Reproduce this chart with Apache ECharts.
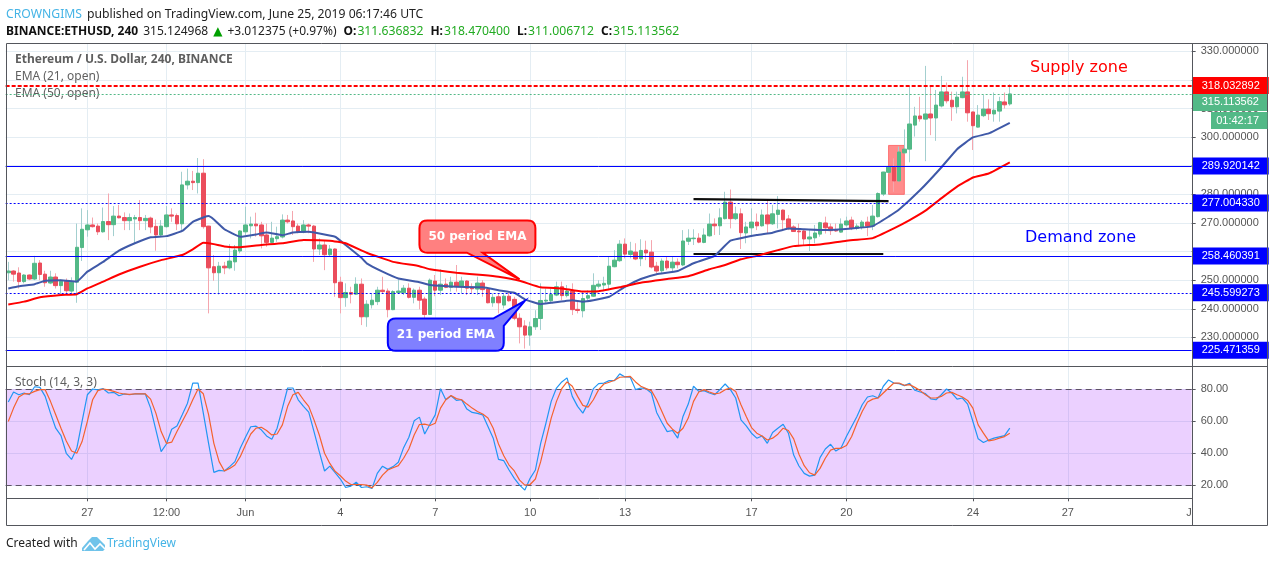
<!DOCTYPE html>
<html lang="en">

<head>
    <meta charset="UTF-8">
    <title>ETHUSD 240</title>
    <script src="https://cdn.jsdelivr.net/npm/echarts@6/dist/echarts.min.js"></script>
    <style>
        * {
            margin: 0;
            padding: 0
        }

        html,
        body {
            width: 100%;
            height: 100%;
            background: #fff;
        }

        #main {
            width: 1274px;
            height: 562px;
        }
    </style>
</head>

<body>
    <div id="main"></div>
    <script type="text/javascript">
        // 4h candles, index 0 = May 24 12:00 UTC
        var opens = [
            252.6,253.2,252.5,249.5,251.8,250.4,256.0,252.1,249.0,251.1,248.1,249.6,246.2,249.3,261.4,267.6,269.3,268.9,266.9,270.5,
            269.4,272.4,271.9,270.8,271.4,271.9,270.8,271.7,268.8,265.8,268.7,272.8,272.6,269.7,283.3,284.6,284.1,287.4,268.9,254.7,
            252.6,254.9,254.3,256.4,260.2,266.9,269.0,269.6,269.3,265.8,263.2,264.5,265.1,271.0,270.7,268.9,266.8,269.3,268.9,260.9,
            262.3,258.9,260.9,249.3,243.9,245.7,245.1,248.6,237.2,241.4,242.5,246.5,246.2,239.7,245.7,245.6,247.2,244.0,246.5,243.4,
            238.0,249.7,246.5,248.6,247.5,249.3,247.9,249.7,247.5,246.9,249.0,246.9,242.1,244.2,241.3,244.4,243.3,236.7,234.0,230.8,
            233.7,236.6,242.7,242.8,244.8,247.7,244.6,246.2,239.8,239.3,243.7,244.4,247.9,248.3,248.6,254.7,256.8,262.6,259.0,259.8,
            257.5,260.5,259.8,254.9,253.3,256.7,254.3,256.3,255.3,263.6,264.5,264.7,263.2,265.5,269.6,269.0,271.5,277.3,271.5,273.2,
            266.5,268.3,270.3,269.0,272.8,269.7,273.0,274.5,271.4,268.6,267.2,267.2,264.4,264.8,266.1,270.0,268.6,267.7,266.8,269.3,
            271.0,268.1,268.4,270.3,268.9,272.2,280.1,287.7,289.5,284.7,294.5,295.8,304.2,307.4,306.3,308.1,306.7,310.9,315.8,312.9,
            310.6,313.8,315.8,308.8,303.5,307.5,309.8,308.1,309.1,312.3,311.6
        ];
        var closes = [
            253.2,252.1,249.5,251.8,250.4,255.9,252.0,249.1,251.1,248.1,249.6,246.3,249.3,261.5,267.8,269.3,268.7,266.9,270.5,269.4,
            272.4,271.8,270.8,271.9,271.9,270.8,271.6,268.6,265.8,268.9,272.8,272.4,269.7,283.3,284.6,284.1,287.4,268.7,254.3,252.6,
            254.9,254.3,256.7,260.5,267.2,269.3,269.6,269.0,265.5,263.2,264.7,265.2,271.0,270.4,268.7,266.9,269.3,268.9,260.9,262.3,
            258.9,260.9,249.1,243.9,245.7,245.1,248.6,237.2,241.6,243.0,246.5,246.0,239.7,246.0,246.2,247.2,244.0,246.5,243.0,238.0,
            250.0,246.5,248.6,247.5,249.3,247.9,249.7,247.2,247.0,249.0,246.7,242.1,244.0,242.1,244.4,242.8,236.7,233.7,230.8,233.7,
            236.6,242.9,243.0,245.0,247.7,244.6,246.2,239.7,239.4,243.6,244.6,248.2,248.6,248.9,254.9,257.0,262.6,259.1,260.2,257.4,
            260.4,259.5,254.6,253.2,256.7,254.3,256.3,255.4,263.7,264.7,264.7,263.3,265.8,269.6,269.0,271.8,277.3,271.5,273.2,266.6,
            268.6,270.3,269.0,272.8,269.7,273.2,274.5,271.1,268.3,267.0,266.9,264.4,265.1,266.5,270.1,268.3,267.3,267.2,269.6,270.7,
            268.1,268.9,270.3,268.9,272.4,280.3,287.8,289.5,284.7,294.8,295.8,304.6,307.4,306.4,308.1,306.7,311.2,315.8,312.7,310.6,
            314.0,315.8,308.5,304.0,307.7,309.8,308.2,309.4,312.4,311.3,315.1
        ];
        var lows = [
            250.0,249.5,247.1,248.9,250.0,250.0,250.0,247.7,248.6,247.1,244.8,244.8,244.8,242.1,256.7,265.2,268.4,265.8,266.6,264.0,
            265.4,271.6,267.5,267.5,262.9,267.5,267.5,266.4,260.3,265.4,268.4,270.4,267.5,266.9,281.7,281.5,280.3,268.0,238.4,249.8,
            245.0,252.1,253.8,253.3,259.4,265.8,264.6,265.2,261.1,261.7,262.9,263.4,264.6,269.8,265.8,266.4,266.4,266.4,256.4,258.8,
            253.5,258.2,244.2,238.4,240.7,241.9,244.8,234.3,233.7,240.1,241.3,245.4,237.0,239.5,245.4,244.8,243.6,241.9,239.8,234.6,
            237.8,244.4,244.8,247.2,246.0,246.0,245.4,244.8,245.4,244.8,244.2,241.9,240.7,238.4,240.1,242.5,236.0,227.9,226.1,227.1,
            232.6,232.6,241.9,241.9,244.4,243.0,244.0,237.8,238.4,237.0,243.0,244.2,247.1,246.5,246.5,254.5,256.4,257.6,257.6,257.0,
            254.9,257.0,254.1,251.8,252.4,253.5,252.7,254.1,254.9,262.3,262.3,262.9,262.9,265.2,265.8,265.8,271.2,268.1,271.0,260.9,
            262.9,265.8,267.5,268.7,266.1,269.3,268.1,267.5,267.5,266.9,261.8,262.3,260.2,262.9,265.2,266.3,265.8,266.9,266.6,268.7,
            267.5,267.5,267.7,265.4,267.5,271.9,279.4,287.3,280.9,284.4,294.3,291.2,300.2,305.4,291.6,300.7,298.7,310.4,311.8,305.7,
            308.3,313.6,305.4,295.5,303.4,307.0,306.0,305.4,305.4,310.0,311.0
        ];
        var highs = [
            256.4,253.5,254.5,252.1,252.0,258.5,257.0,253.3,253.3,252.4,250.3,250.6,251.0,269.8,275.1,274.5,271.9,269.8,275.4,280.3,
            275.9,276.3,273.7,273.3,272.8,278.0,272.8,272.2,271.2,271.0,275.9,275.1,273.3,287.9,289.0,288.2,292.7,292.3,269.0,258.8,
            256.4,256.4,262.6,262.3,267.5,275.7,272.2,273.6,270.4,269.8,270.4,268.7,273.0,272.8,274.2,269.8,271.0,269.8,269.3,264.6,
            264.0,262.3,261.1,251.2,248.9,247.7,251.0,250.6,243.0,245.4,247.7,251.2,247.1,246.5,250.3,248.3,248.9,247.1,247.7,244.2,
            250.6,251.8,253.8,250.6,251.2,255.3,251.2,250.0,248.9,251.2,250.0,247.0,245.4,245.4,245.4,246.0,244.2,238.4,236.0,235.5,
            239.5,248.9,247.1,247.1,249.5,249.5,248.3,248.9,243.0,246.0,246.5,252.4,250.0,251.2,258.2,260.5,264.0,264.6,263.4,262.9,
            264.3,263.8,264.0,256.4,257.6,258.4,258.2,257.6,267.5,267.8,267.8,266.4,268.1,273.3,271.6,275.1,280.9,281.7,275.7,275.1,
            270.4,275.1,273.3,274.7,278.2,276.3,279.4,274.7,272.8,269.2,269.8,267.5,267.5,269.3,270.4,272.2,269.8,269.8,271.6,272.2,
            272.2,269.8,271.0,272.2,276.3,280.7,287.9,289.9,292.6,296.7,302.7,317.9,310.6,314.1,324.9,317.9,316.5,321.4,319.1,315.9,
            315.9,321.1,326.9,308.9,311.2,314.7,313.2,315.6,314.1,315.6,318.5
        ];

        // [candle index, value]
        var ema21 = [
            [0,247.1],[2,247.9],[5,248.6],[7,249.8],[10,250.0],[13,249.5],[15,253.0],[18,256.4],[21,260.3],[24,262.9],
            [27,265.0],[30,265.4],[33,267.2],[35,270.4],[37,271.9],[38,272.4],[39,271.2],[41,267.8],[44,265.2],[47,266.0],
            [49,266.7],[52,265.7],[54,266.7],[57,266.9],[62,265.2],[64,262.3],[67,257.8],[68,255.9],[71,253.0],[74,250.6],
            [78,249.3],[80,248.3],[85,247.7],[90,247.5],[93,246.5],[96,245.6],[98,243.3],[101,241.6],[103,242.1],[107,243.0],
            [109,242.5],[111,243.0],[114,244.2],[117,247.7],[120,250.4],[123,252.1],[127,253.2],[130,255.9],[134,258.5],[137,263.8],
            [142,265.8],[145,266.6],[148,268.1],[151,267.8],[155,267.5],[160,268.1],[164,268.9],[167,272.2],[169,274.7],[173,281.5],
            [177,289.4],[180,295.8],[183,299.9],[186,301.3],[190,305.0]
        ];
        var ema50 = [
            [0,241.5],[3,242.5],[6,244.0],[10,244.8],[13,245.1],[15,247.1],[18,249.5],[21,252.0],[25,254.7],[29,257.0],
            [33,258.8],[35,260.8],[37,263.1],[39,262.6],[41,261.8],[44,261.5],[48,262.3],[52,262.9],[56,264.0],[61,263.8],
            [64,262.9],[68,259.6],[73,256.4],[78,254.9],[80,253.8],[85,252.6],[90,251.8],[93,251.2],[97,249.8],[101,247.5],
            [105,247.1],[109,246.0],[112,246.1],[116,247.5],[120,249.1],[125,250.4],[129,251.4],[133,253.8],[136,255.3],[139,257.3],
            [142,258.5],[146,260.5],[149,261.9],[154,262.5],[159,263.8],[164,264.7],[168,268.1],[171,271.0],[174,274.3],[177,278.6],
            [180,282.7],[183,285.9],[186,287.3],[190,291.2]
        ];

        var stochK = [
            71.9,78.1,76.4,77.5,76.4,81.4,81.0,75.4,65.0,55.6,51.0,40.0,36.2,43.1,59.8,76.4,80.0,79.4,80.2,77.5,
            77.9,75.8,76.9,76.4,76.9,76.9,76.9,68.1,54.6,41.0,45.8,55.0,57.0,64.0,71.2,83.7,83.7,65.0,46.2,28.1,
            29.4,29.0,31.7,34.8,43.1,50.0,56.5,56.9,54.6,50.8,48.7,55.6,68.1,80.6,80.6,73.3,69.2,65.6,53.5,41.0,
            29.0,32.0,28.0,24.0,18.7,19.6,22.0,18.7,19.2,18.1,27.5,32.0,30.0,31.7,34.4,43.5,50.0,60.2,62.5,52.0,
            58.1,63.9,80.2,73.3,75.8,72.9,73.3,67.5,65.4,64.8,63.9,56.7,49.4,36.2,35.4,29.6,24.4,20.2,17.1,24.4,
            29.6,46.2,58.7,72.3,80.6,84.4,86.9,75.4,69.2,65.0,71.2,80.2,83.3,83.7,85.2,85.2,89.4,87.5,87.3,79.6,
            80.6,80.2,77.5,65.4,59.2,53.5,54.2,49.4,62.9,70.6,81.7,78.5,79.0,77.5,76.4,79.6,83.1,79.6,74.4,60.8,
            57.1,52.5,49.4,50.8,46.2,52.9,55.6,58.1,52.5,38.9,32.1,27.5,25.8,26.4,37.3,42.7,45.6,41.4,43.5,50.4,
            56.7,62.9,70.2,75.0,75.8,74.4,81.7,85.6,83.7,83.3,82.1,83.5,79.2,78.1,77.1,73.9,73.3,76.4,80.0,77.5,
            73.7,74.4,70.6,59.8,49.0,46.7,48.3,49.4,50.2,51.0,55.6
        ];
        var stochD = [
            59.8,68.1,75.0,77.1,77.0,78.5,79.6,79.6,72.3,64.0,55.6,47.7,41.4,40.0,47.3,59.8,73.3,79.0,80.0,79.4,
            78.5,77.5,76.9,76.7,76.9,76.9,76.9,73.7,65.0,53.5,46.2,46.9,53.5,59.8,66.0,73.3,80.0,77.0,64.0,46.2,
            34.8,29.0,30.6,32.7,37.9,45.2,52.0,55.6,56.2,54.2,51.4,52.0,57.7,69.2,76.4,77.9,73.3,69.2,60.8,51.4,
            40.0,33.7,28.8,26.0,22.7,20.6,20.6,20.6,20.2,18.5,21.9,26.4,29.6,31.0,32.3,36.9,42.7,51.4,57.9,58.1,
            57.3,58.7,68.1,73.3,76.0,74.0,73.3,70.6,68.1,66.0,64.4,61.9,55.6,45.8,38.5,32.7,29.0,23.3,20.2,20.6,
            24.0,34.8,48.3,61.9,72.3,80.2,84.4,81.7,75.4,69.8,68.7,73.3,79.6,83.1,84.2,85.4,87.3,87.5,87.9,84.4,
            81.7,80.2,79.0,73.3,66.0,58.7,55.0,52.5,55.6,61.9,72.3,78.1,79.6,78.1,77.0,77.5,79.6,80.6,78.5,70.2,
            62.9,56.0,52.5,50.8,48.3,49.4,51.9,55.6,54.2,49.0,39.4,32.3,27.9,26.4,30.6,36.9,42.0,43.1,43.1,44.8,
            50.4,58.7,66.0,71.9,73.7,74.4,77.5,80.6,83.7,83.7,82.3,82.7,81.0,79.0,76.4,74.4,74.4,75.4,77.5,77.9,
            76.4,75.0,72.9,68.1,57.7,52.5,47.7,48.3,49.4,50.4,52.5
        ];

        var slotCount = 225;
        var tickIndex = [15, 30, 45, 63, 81, 99, 117, 141, 159, 183, 201, 224];
        var tickText = ['27', '12:00', 'Jun', '4', '7', '10', '13', '17', '20', '24', '27', 'J'];
        var priceTicks = [230, 240, 250, 260, 270, 280, 290, 300, 310, 320, 330];
        var priceLabels = [230, 240, 250, 270, 280, 300, 310, 330]; // the rest sit behind the price flags
        var stochTicks = [20, 40, 60, 80];

        var priceLevels = [
            { value: 315.113562, color: '#53b987', type: [2, 2], width: 1, shift: 8.5 },
            { value: 318.032892, color: '#ff0000', type: [4, 2], width: 2, shift: 0 },
            { value: 289.920142, color: '#0000ff', type: 'solid', width: 1, shift: 0 },
            { value: 277.004330, color: '#0000ff', type: [2, 2], width: 1, shift: 0 },
            { value: 258.460391, color: '#0000ff', type: 'solid', width: 1, shift: 0 },
            { value: 245.599273, color: '#0000ff', type: [2, 2], width: 1, shift: 0 },
            { value: 225.471359, color: '#0000ff', type: 'solid', width: 1, shift: 0 }
        ];
        var trendLines = [
            [[130, 278.3], [167, 277.6]],
            [[130, 259.1], [166, 259.1]]
        ];
        var callouts = [
            {
                text: '50 period EMA', fill: '#ff8080', stroke: '#ff0000',
                outline: [[78, 270.9, 1], [100, 270.9, 1], [100, 259.6, 1], [90, 259.6], [97, 250.3], [87, 259.6], [78, 259.6, 1]]
            },
            {
                text: '21 period EMA', fill: '#8080ff', stroke: '#0000ff',
                outline: [[72, 236.6, 1], [92, 236.6], [98, 242.8], [94, 234.0], [94, 225.3, 1], [72, 225.3, 1]]
            }
        ];

        var categories = [];
        for (var i = 0; i < slotCount; i++) {
            var d = new Date(Date.UTC(2019, 4, 24, 12) + i * 4 * 3600000);
            categories.push(d.toISOString().slice(5, 16));
        }

        var candleData = opens.map(function (o, i) { return [o, closes[i], lows[i], highs[i]]; });
        var bodyData = opens.map(function (o, i) {
            return [o, closes[i], Math.min(o, closes[i]), Math.max(o, closes[i])];
        });

        function isTick(i) { return tickIndex.indexOf(i) >= 0; }
        function isGridTick(i) { return isTick(i) && i !== 224; }

        function roundedOutline(pts, r) {
            // pts are pixels [x, y, rounded]
            var out = [];
            var n = pts.length;
            pts.forEach(function (p, k) {
                if (!p[2]) { out.push([p[0], p[1]]); return; }
                var a = pts[(k + n - 1) % n], b = pts[(k + 1) % n];
                var la = Math.hypot(a[0] - p[0], a[1] - p[1]), lb = Math.hypot(b[0] - p[0], b[1] - p[1]);
                var s = [p[0] + (a[0] - p[0]) * r / la, p[1] + (a[1] - p[1]) * r / la];
                var e = [p[0] + (b[0] - p[0]) * r / lb, p[1] + (b[1] - p[1]) * r / lb];
                for (var t = 0; t <= 1.001; t += 0.2) {
                    out.push([
                        (1 - t) * (1 - t) * s[0] + 2 * t * (1 - t) * p[0] + t * t * e[0],
                        (1 - t) * (1 - t) * s[1] + 2 * t * (1 - t) * p[1] + t * t * e[1]
                    ]);
                }
            });
            return out;
        }

        function renderCallout(params, api) {
            var c = callouts[params.dataIndex];
            var pts = c.outline.map(function (o) {
                var p = api.coord([o[0], o[1]]);
                return [p[0], p[1], o[2]];
            });
            var xs = c.outline.filter(function (o) { return o[2]; }).map(function (o) { return api.coord([o[0], o[1]]); });
            var cx = (Math.min.apply(null, xs.map(function (p) { return p[0]; })) + Math.max.apply(null, xs.map(function (p) { return p[0]; }))) / 2;
            var cy = (Math.min.apply(null, xs.map(function (p) { return p[1]; })) + Math.max.apply(null, xs.map(function (p) { return p[1]; }))) / 2;
            return {
                type: 'group',
                children: [
                    { type: 'polygon', shape: { points: roundedOutline(pts, 8) }, style: { fill: c.fill, stroke: c.stroke, lineWidth: 2 } },
                    { type: 'text', style: { x: cx, y: cy, text: c.text, fill: '#fff', font: 'bold 12px "DejaVu Sans"', align: 'center', verticalAlign: 'middle' } }
                ]
            };
        }

        var myChart = echarts.init(document.getElementById('main'), null, { renderer: 'canvas' });
        var axisFont = '"Liberation Sans"';
        var headFont = '"Noto Sans"';
        var gridColor = '#e4edf3';
        var frameColor = '#54565c';

        function plainTitle(x, y, text, color, family, size, weight) {
            return { left: x, top: y, padding: 0, text: text, textStyle: { color: color, fontFamily: family, fontSize: size, fontWeight: weight || 'normal' } };
        }

        var option = {
            animation: false,
            backgroundColor: '#fff',
            title: [
                {
                    left: 6, top: 6, padding: 0,
                    text: '{a|CROWNGIMS} {b|published on TradingView.com, June 25, 2019 06:17:46 UTC}',
                    textStyle: {
                        fontWeight: 'normal',
                        rich: {
                            a: { color: '#45b4e6', fontFamily: headFont, fontSize: 12.2, fontWeight: 'normal' },
                            b: { color: '#222', fontFamily: headFont, fontSize: 12.2, fontWeight: 'normal' }
                        }
                    }
                },
                {
                    left: 6, top: 23, padding: 0,
                    text: '{k|BINANCE:ETHUSD, 240} {n|315.124968} {g|▲} {n|+3.012375 (+0.97%)} {m|O:}{v|311.636832} {m|H:}{v|318.470400} {m|L:}{v|311.006712} {m|C:}{v|315.113562}',
                    textStyle: {
                        fontWeight: 'normal',
                        rich: {
                            k: { color: '#111', fontWeight: 'bold', fontFamily: headFont, fontSize: 12 },
                            m: { color: '#111', fontWeight: 'bold', fontFamily: headFont, fontSize: 12, padding: [0, 1, 0, 2] },
                            n: { color: '#222', fontWeight: 'normal', fontFamily: headFont, fontSize: 12 },
                            g: { color: '#00a000', fontWeight: 'normal', fontFamily: 'DejaVu Sans', fontSize: 12 },
                            v: { color: '#22ab22', fontWeight: 'normal', fontFamily: headFont, fontSize: 12.2 }
                        }
                    }
                },
                plainTitle(15, 54, 'Ethereum / U.S. Dollar, 240, BINANCE', '#5f5f5f', headFont, 12, 'bold'),
                plainTitle(15, 71, 'EMA (21, open)', '#5f5f5f', headFont, 12),
                plainTitle(15, 88, 'EMA (50, open)', '#5f5f5f', headFont, 12),
                plainTitle(15, 377, 'Stoch (14, 3, 3)', '#5f5f5f', headFont, 12),
                plainTitle(1030, 60, 'Supply zone', '#ff0000', 'DejaVu Sans', 16),
                plainTitle(1025, 230, 'Demand zone', '#0000ff', 'DejaVu Sans', 16),
                plainTitle(6, 538, 'Created with', '#222', headFont, 12),
                plainTitle(107, 538, 'TradingView', '#45b4e6', headFont, 12)
            ],
            graphic: [
                { type: 'rect', z: 50, shape: { x: 6.5, y: 43.5, width: 1261, height: 482 }, style: { fill: 'none', stroke: frameColor, lineWidth: 1 } },
                { type: 'line', z: 50, shape: { x1: 6.5, y1: 366.5, x2: 1267.5, y2: 366.5 }, style: { stroke: frameColor, lineWidth: 1 } },
                { type: 'line', z: 50, shape: { x1: 6.5, y1: 498.5, x2: 1192.5, y2: 498.5 }, style: { stroke: frameColor, lineWidth: 1 } },
                { type: 'line', z: 50, shape: { x1: 1192.5, y1: 43.5, x2: 1192.5, y2: 525.5 }, style: { stroke: frameColor, lineWidth: 1 } },
                { type: 'rect', z: 60, shape: { x: 1211, y: 112, width: 56.5, height: 17 }, style: { fill: '#53b987' } },
                { type: 'text', z: 61, style: { x: 1259, y: 120.5, text: '01:42:17', fill: '#fff', font: '11px ' + axisFont, align: 'right', verticalAlign: 'middle' } },
                { type: 'polygon', z: 10, shape: { points: [[82, 551], [82, 548], [88, 541], [92, 537], [97, 537], [101, 541], [105, 545], [105, 549], [103, 551]] }, style: { fill: '#6fc3ea' } },
                { type: 'polyline', z: 11, shape: { points: [[84, 550], [90, 543], [95, 549], [100, 544], [105, 549]] }, style: { stroke: '#fff', fill: 'none', lineWidth: 1.6 } }
            ],
            grid: [
                { left: 5.65, width: 1186, top: 43.3, height: 322.7, containLabel: false },
                { left: 5.65, width: 1186, top: 366, height: 132.3, containLabel: false }
            ],
            xAxis: [
                {
                    type: 'category', gridIndex: 0, data: categories, boundaryGap: true,
                    axisLine: { show: false }, axisTick: { show: false }, axisLabel: { show: false },
                    splitLine: { show: true, interval: isGridTickFn, alignWithLabel: true, lineStyle: { color: gridColor, width: 1 } }
                },
                {
                    type: 'category', gridIndex: 1, data: categories, boundaryGap: true,
                    axisLine: { show: false },
                    axisTick: { show: true, alignWithLabel: true, interval: isGridTickFn, length: 3, lineStyle: { color: frameColor } },
                    axisLabel: {
                        show: true, interval: function (i) { return isTick(i); }, margin: 9,
                        formatter: function (v, i) { return tickText[tickIndex.indexOf(categories.indexOf(v))]; },
                        color: '#555', fontFamily: axisFont, fontSize: 11
                    },
                    splitLine: { show: true, interval: isGridTickFn, alignWithLabel: true, lineStyle: { color: gridColor, width: 1 } }
                }
            ],
            yAxis: [
                {
                    type: 'value', gridIndex: 0, position: 'right', min: 220, max: 332.8, scale: true,
                    axisLine: { show: false },
                    axisTick: { show: true, length: 4, customValues: priceTicks, lineStyle: { color: frameColor } },
                    axisLabel: {
                        show: true, margin: 9, customValues: priceLabels,
                        formatter: function (v) { return v.toFixed(6); },
                        color: '#555', fontFamily: axisFont, fontSize: 11
                    },
                    splitLine: { show: true, lineStyle: { color: gridColor, width: 1 } }
                },
                {
                    type: 'value', gridIndex: 1, position: 'right', min: 12, max: 94.3,
                    axisLine: { show: false },
                    axisTick: { show: true, length: 4, customValues: stochTicks, lineStyle: { color: frameColor } },
                    axisLabel: {
                        show: true, margin: 9, customValues: stochTicks,
                        formatter: function (v) { return v.toFixed(2); },
                        color: '#555', fontFamily: axisFont, fontSize: 11
                    },
                    splitLine: { show: true, lineStyle: { color: gridColor, width: 1 } }
                }
            ],
            series: [
                {
                    // pale wicks sit under the solid bodies
                    name: 'wicks', type: 'candlestick', xAxisIndex: 0, yAxisIndex: 0, z: 3,
                    data: candleData, barWidth: 1,
                    itemStyle: { color: '#a3cfcf', color0: '#f5a6ae', borderColor: '#a3cfcf', borderColor0: '#f5a6ae', borderWidth: 1 },
                    markArea: {
                        silent: true,
                        itemStyle: { color: 'rgba(255,0,0,0.45)', borderColor: 'rgba(255,80,80,0.7)', borderWidth: 1 },
                        data: [[{ coord: [167, 297.1] }, { coord: [170, 280.0] }]]
                    }
                },
                {
                    name: 'bodies', type: 'candlestick', xAxisIndex: 0, yAxisIndex: 0, z: 4,
                    data: bodyData, barWidth: 4,
                    itemStyle: { color: '#53b987', color0: '#eb4d5c', borderColor: '#53b987', borderColor0: '#eb4d5c', borderWidth: 1 }
                },
                {
                    name: 'EMA 21', type: 'line', xAxisIndex: 0, yAxisIndex: 0, z: 5, data: ema21, smooth: 0.1,
                    showSymbol: false, lineStyle: { color: '#3f59a8', width: 2 }
                },
                {
                    name: 'EMA 50', type: 'line', xAxisIndex: 0, yAxisIndex: 0, z: 5, data: ema50, smooth: 0.1,
                    showSymbol: false, lineStyle: { color: '#ff0000', width: 2 },
                    markLine: {
                        silent: true, symbol: 'none', z: 20, animation: false,
                        data: priceLevels.map(function (l) {
                            return {
                                yAxis: l.value,
                                lineStyle: { color: l.color, type: l.type, width: l.width, opacity: 1 },
                                label: {
                                    show: true, position: 'end', distance: 1, offset: [0, l.shift],
                                    formatter: l.value.toFixed(6), color: '#fff', backgroundColor: l.color,
                                    padding: [3, 9, 3, 9], lineHeight: 11, fontFamily: axisFont, fontSize: 11
                                }
                            };
                        })
                    }
                },
                {
                    name: 'trend lines', type: 'line', xAxisIndex: 0, yAxisIndex: 0, z: 6, data: [], showSymbol: false,
                    markLine: {
                        silent: true, symbol: 'none', animation: false,
                        lineStyle: { color: '#000', type: 'solid', width: 2.2, opacity: 0.95 },
                        label: { show: false },
                        data: trendLines.map(function (t) { return [{ coord: t[0] }, { coord: t[1] }]; })
                    }
                },
                {
                    name: 'callouts', type: 'custom', xAxisIndex: 0, yAxisIndex: 0, z: 8, silent: true, clip: false,
                    data: callouts.map(function (c) { return [c.outline[0][0], c.outline[0][1]]; }),
                    renderItem: renderCallout
                },
                {
                    name: '%K', type: 'line', xAxisIndex: 1, yAxisIndex: 1, z: 5, data: stochK, showSymbol: false,
                    lineStyle: { color: '#2196f3', width: 1.2 },
                    markArea: {
                        silent: true, itemStyle: { color: 'rgba(153,21,255,0.2)' },
                        data: [[{ yAxis: 20 }, { yAxis: 80 }]]
                    },
                    markLine: {
                        silent: true, symbol: 'none', animation: false, label: { show: false },
                        lineStyle: { color: '#5d5266', type: [6, 4], width: 1 },
                        data: [{ yAxis: 80 }, { yAxis: 20 }]
                    }
                },
                {
                    name: '%D', type: 'line', xAxisIndex: 1, yAxisIndex: 1, z: 5, data: stochD, showSymbol: false,
                    lineStyle: { color: '#f4622e', width: 1.2 }
                }
            ]
        };

        function isGridTickFn(i) { return isGridTick(i); }

        myChart.setOption(option);
    </script>
</body>

</html>
